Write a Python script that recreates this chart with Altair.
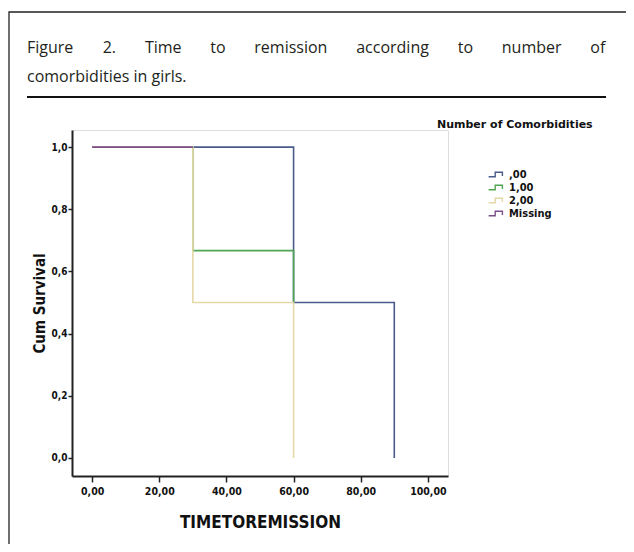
import altair as alt
import pandas as pd

# ---- data ----
groups = [",00", "1,00", "2,00", "Missing"]
colors = ["#4a5b8b", "#4fa552", "#e4d8a6", "#7d4f88"]
time_00 = [0, 60, 90]
surv_00 = [1.0, 0.5, 0.0]
time_10 = [0, 30, 60]
surv_10 = [1.0, 0.667, 0.5]
time_20 = [0, 30, 60]
surv_20 = [1.0, 0.5, 0.0]
time_mi = [0, 30]
surv_mi = [1.0, 1.0]
x_ticks = [0, 20, 40, 60, 80, 100]
y_ticks = [0.0, 0.2, 0.4, 0.6, 0.8, 1.0]

caption_line1 = ["Figure", "2.", "Time", "to", "remission", "according", "to", "number", "of"]
caption_line2 = "comorbidities in girls."

rows = []
for g, ts, ss in zip(groups, [time_00, time_10, time_20, time_mi],
                     [surv_00, surv_10, surv_20, surv_mi]):
    for t, s in zip(ts, ss):
        rows.append({"group": g, "time": t, "surv": s})
df = pd.DataFrame(rows)

COND = "'Liberation Sans Narrow', 'Arial Narrow', 'DejaVu Sans Condensed', 'Liberation Sans', sans-serif"
CAP = "'Open Sans', 'Noto Sans', sans-serif"

W, H = 376, 346

lines = alt.Chart(df).mark_line(interpolate="step-after", strokeWidth=1.6).encode(
    x=alt.X("time:Q",
            scale=alt.Scale(domain=[-6, 106], nice=False, zero=False),
            axis=alt.Axis(values=x_ticks, title="TIMETOREMISSION",
                          labelExpr="replace(format(datum.value, '.2f'), '.', ',')",
                          grid=False, domainColor="#222", domainWidth=2,
                          tickColor="#222", tickWidth=1.5, tickSize=6,
                          labelFont=COND, labelFontSize=10.5, labelFontWeight="bold",
                          labelColor="#111", labelPadding=4,
                          titleFont=COND, titleFontSize=17, titleFontWeight="bold",
                          titleColor="#111", titleX=W / 2, titleY=46,
                          titleBaseline="middle")),
    y=alt.Y("surv:Q",
            scale=alt.Scale(domain=[-0.058, 1.055], nice=False, zero=False),
            axis=alt.Axis(values=y_ticks, title="Cum Survival",
                          labelExpr="replace(format(datum.value, '.1f'), '.', ',')",
                          grid=False, domainColor="#222", domainWidth=2,
                          tickColor="#222", tickWidth=1.5, tickSize=4,
                          labelFont=COND, labelFontSize=10, labelFontWeight="bold",
                          labelColor="#111", labelPadding=1,
                          titleFont=COND, titleFontSize=15, titleFontWeight="bold",
                          titleColor="#111", titleX=-33, titleY=H / 2,
                          titleBaseline="middle", titleAngle=270)),
    color=alt.Color("group:N",
                    scale=alt.Scale(domain=groups, range=colors),
                    sort=groups,
                    legend=alt.Legend(title=None, orient="none",
                                      legendX=418, legendY=38, padding=0,
                                      symbolType="M-1.4,0.3L-0.3,0.3L-0.3,-0.45L0.9,-0.45L0.9,0.15",
                                      symbolSize=144, symbolStrokeWidth=1.4,
                                      symbolFillColor="transparent",
                                      labelFont=COND, labelFontSize=11,
                                      labelFontWeight="bold", labelColor="#111",
                                      labelOffset=5, rowPadding=1)),
)

one = alt.Data(values=[{"k": 1}])

# decorations: outer border, caption, rule, legend title
border = alt.Chart(one).mark_rect(fillOpacity=0, stroke="#222", strokeWidth=1.3).encode(
    x=alt.value(-63), y=alt.value(-118), x2=alt.value(700), y2=alt.value(600))

rule = alt.Chart(one).mark_rule(stroke="#111", strokeWidth=2).encode(
    x=alt.value(-45), x2=alt.value(534), y=alt.value(-33))

word_x = [27, 102.7, 144.9, 210.3, 254.3, 356.2, 457.8, 501.8, 590.3]
cap_layers = []
for w, xp in zip(caption_line1, word_x):
    cap_layers.append(
        alt.Chart(one).mark_text(text=w, align="left", baseline="alphabetic",
                                 font=CAP, fontSize=16, color="#231f20").encode(
            x=alt.value(xp - 72), y=alt.value(53 - 130)))
cap_layers.append(
    alt.Chart(one).mark_text(text=caption_line2, align="left", baseline="alphabetic",
                             font=CAP, fontSize=16, color="#231f20").encode(
        x=alt.value(27 - 72), y=alt.value(82 - 130)))

leg_title = alt.Chart(one).mark_text(text="Number of Comorbidities", align="left",
                                     baseline="middle", font="'DejaVu Sans', sans-serif",
                                     fontSize=11, fontWeight="bold", color="#111").encode(
    x=alt.value(437 - 72), y=alt.value(125 - 130))

chart = alt.layer(lines, border, rule, leg_title, *cap_layers).properties(
    width=W, height=H,
    autosize=alt.AutoSizeParams(type="none"),
    padding={"left": 64, "top": 122, "right": 178, "bottom": 68},
).configure_view(
    fill="#f0f0f0", stroke="#333", strokeWidth=1.5
).configure(background="white")

chart.save("out.html", embed_options={"renderer": "svg", "actions": False})
